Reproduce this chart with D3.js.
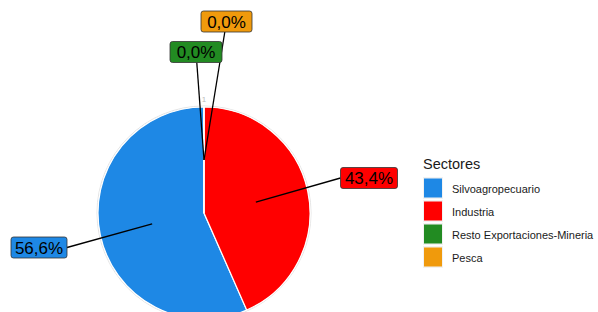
<!DOCTYPE html>
<html><head><meta charset="utf-8">
<script src="https://cdn.jsdelivr.net/npm/d3@7"></script>
<style>body{margin:0;background:#fff}svg{display:block}</style>
</head><body>
<svg id="c" width="598" height="312"></svg>
<script>
const categories = ["Silvoagropecuario","Industria","Resto Exportaciones-Mineria","Pesca"];
const values = [56.6, 43.4, 0.0, 0.0];
const labels = ["56,6%","43,4%","0,0%","0,0%"];
const colors = ["#1E88E5","#FF0000","#228B22","#F09A0C"];
const drawOrder = [1,0,2,3];

const svg = d3.select("#c");
const cx=204, cy=213, R=106;
const font = "'Liberation Sans', Arial, sans-serif";

const data = categories.map((c,i)=>({cat:c,val:values[i],label:labels[i],color:colors[i],order:drawOrder[i]}));
const pie = d3.pie().value(d=>d.val).sort((a,b)=>a.order-b.order);
const arcs = pie(data);
const arc = d3.arc().innerRadius(0).outerRadius(R);
const g = svg.append("g").attr("transform",`translate(${cx},${cy})`);
g.append("circle").attr("r",R+1).attr("fill","none").attr("stroke","#e3e3e3").attr("stroke-width",1);
g.selectAll("path.s").data(arcs).join("path").attr("class","s")
 .attr("d",arc).attr("fill",d=>d.data.color).attr("stroke","#fff").attr("stroke-width",1.2);
g.append("text").attr("x",0).attr("y",-R-5).attr("text-anchor","middle")
 .attr("font-family",font).attr("font-size",8).attr("fill","#bbb").text("1");

const labelArc = d3.arc().innerRadius(R/2).outerRadius(R/2);
const boxCenter = {"Silvoagropecuario":[39,247.5],"Industria":[369,178],"Resto Exportaciones-Mineria":[196,52],"Pesca":[226.5,21.5]};
const boxW = {"Silvoagropecuario":56,"Industria":57,"Resto Exportaciones-Mineria":52,"Pesca":51};
const boxH = 21;
const lg = svg.append("g");
arcs.forEach(a=>{
  const [px,py] = labelArc.centroid(a);
  const ax=cx+px, ay=cy+py;
  const [bx,by] = boxCenter[a.data.cat];
  const bw = boxW[a.data.cat];
  let sx,sy;
  if (Math.abs(ax-bx) > Math.abs(ay-by)*2.5) { sx = ax<bx? bx-bw/2 : bx+bw/2; sy=by; }
  else { sy = ay>by? by+boxH/2 : by-boxH/2; sx = bx + (ax-bx)*( (sy-by)/(ay-by) ); }
  lg.append("line").attr("x1",sx).attr("y1",sy).attr("x2",ax).attr("y2",ay)
    .attr("stroke","#000").attr("stroke-width",1.3);
});
arcs.forEach(a=>{
  const [bx,by] = boxCenter[a.data.cat];
  const bw = boxW[a.data.cat];
  lg.append("rect").attr("x",bx-bw/2).attr("y",by-boxH/2).attr("width",bw).attr("height",boxH)
    .attr("rx",2.5).attr("fill",a.data.color).attr("stroke","#333").attr("stroke-width",0.8);
  lg.append("text").attr("x",bx).attr("y",by+6).attr("text-anchor","middle")
    .attr("font-family",font).attr("font-size",17).attr("fill","#000").text(a.data.label);
});

const leg = svg.append("g").attr("transform","translate(423,0)");
leg.append("text").attr("x",0).attr("y",169).attr("font-family",font).attr("font-size",14.5).attr("fill","#1a1a1a").text("Sectores");
const ly = d3.scaleBand().domain(categories).range([177,269]);
categories.forEach((c,i)=>{
  const y = ly(c);
  leg.append("rect").attr("x",0).attr("y",y).attr("width",20).attr("height",22).attr("fill","#f2f2f2");
  leg.append("rect").attr("x",1).attr("y",y+1.5).attr("width",18).attr("height",19).attr("fill",colors[i]);
  const t = leg.append("text").attr("x",29).attr("y",y+15.5).attr("font-family",font).attr("font-size",11)
    .attr("fill","#1a1a1a").text(c);
  const maxW = 598 - 423 - 29 - 2;
  const w = t.node().getComputedTextLength();
  if (w > maxW) t.attr("textLength",maxW).attr("lengthAdjust","spacingAndGlyphs");
});
</script>
</body></html>
